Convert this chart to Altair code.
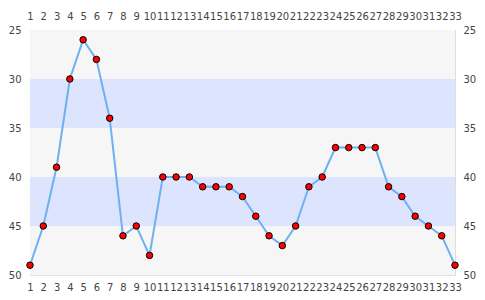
import altair as alt
import pandas as pd

xs = list(range(1, 34))
values = [49, 45, 39, 30, 26, 28, 34, 46, 45, 48, 40, 40, 40, 41, 41, 41, 42,
          44, 46, 47, 45, 41, 40, 37, 37, 37, 37, 41, 42, 44, 45, 46, 49]
band_start = [25, 30, 35, 40, 45]
band_end = [30, 35, 40, 45, 50]
band_kind = ["a", "b", "a", "b", "a"]
y_ticks = [25, 30, 35, 40, 45, 50]

df = pd.DataFrame({"x": xs, "y": values})
bands = pd.DataFrame({"y": band_start, "y2": band_end, "k": band_kind})

xscale = alt.Scale(domain=[1, 33], nice=False, zero=False)
yscale = alt.Scale(domain=[25, 50], reverse=True, nice=False, zero=False)

lab = dict(labelFont="DejaVu Sans", labelFontSize=10, labelColor="#444444",
           ticks=False, domain=False, labelOverlap=False, labelFlush=False, title="")

band_layer = alt.Chart(bands).mark_rect().encode(
    x=alt.value(0), x2=alt.value(425),
    y=alt.Y("y:Q", scale=yscale, axis=alt.Axis(orient="left", values=y_ticks,
                                               labelPadding=9, gridColor="#e2e2e2", **lab)),
    y2="y2:Q",
    color=alt.Color("k:N", scale=alt.Scale(domain=["a", "b"], range=["#f6f6f6", "#dde4fe"]), legend=None),
)

right_axis = alt.Chart(df).mark_point(opacity=0).encode(
    x=alt.X("x:Q", scale=xscale, axis=alt.Axis(orient="top", values=xs, grid=False, labelPadding=9, **lab)),
    y=alt.Y("y:Q", scale=yscale, axis=alt.Axis(orient="right", values=y_ticks,
                                               grid=False, labelPadding=8, **lab)),
)

line = alt.Chart(df).mark_line(color="#6db1f2", strokeWidth=2).encode(
    x=alt.X("x:Q", scale=xscale, axis=alt.Axis(orient="bottom", values=xs, grid=False, labelPadding=7, **lab)),
    y=alt.Y("y:Q", scale=yscale, axis=None),
)

pts = alt.Chart(df).mark_circle(size=42, color="#ff0000", stroke="#000000", strokeWidth=1, opacity=1).encode(
    x=alt.X("x:Q", scale=xscale, axis=None),
    y=alt.Y("y:Q", scale=yscale, axis=None),
)

chart = alt.layer(band_layer, right_axis, line, pts).resolve_axis(
    x="independent", y="independent"
).properties(
    width=425, height=245,
    autosize=alt.AutoSizeParams(type="none"),
    padding={"left": 30, "top": 30, "right": 30, "bottom": 25},
).configure_view(stroke="#d6d6d6", strokeWidth=1).configure(background="#ffffff")

chart.save("out.html", embed_options={"renderer": "svg", "actions": False})
